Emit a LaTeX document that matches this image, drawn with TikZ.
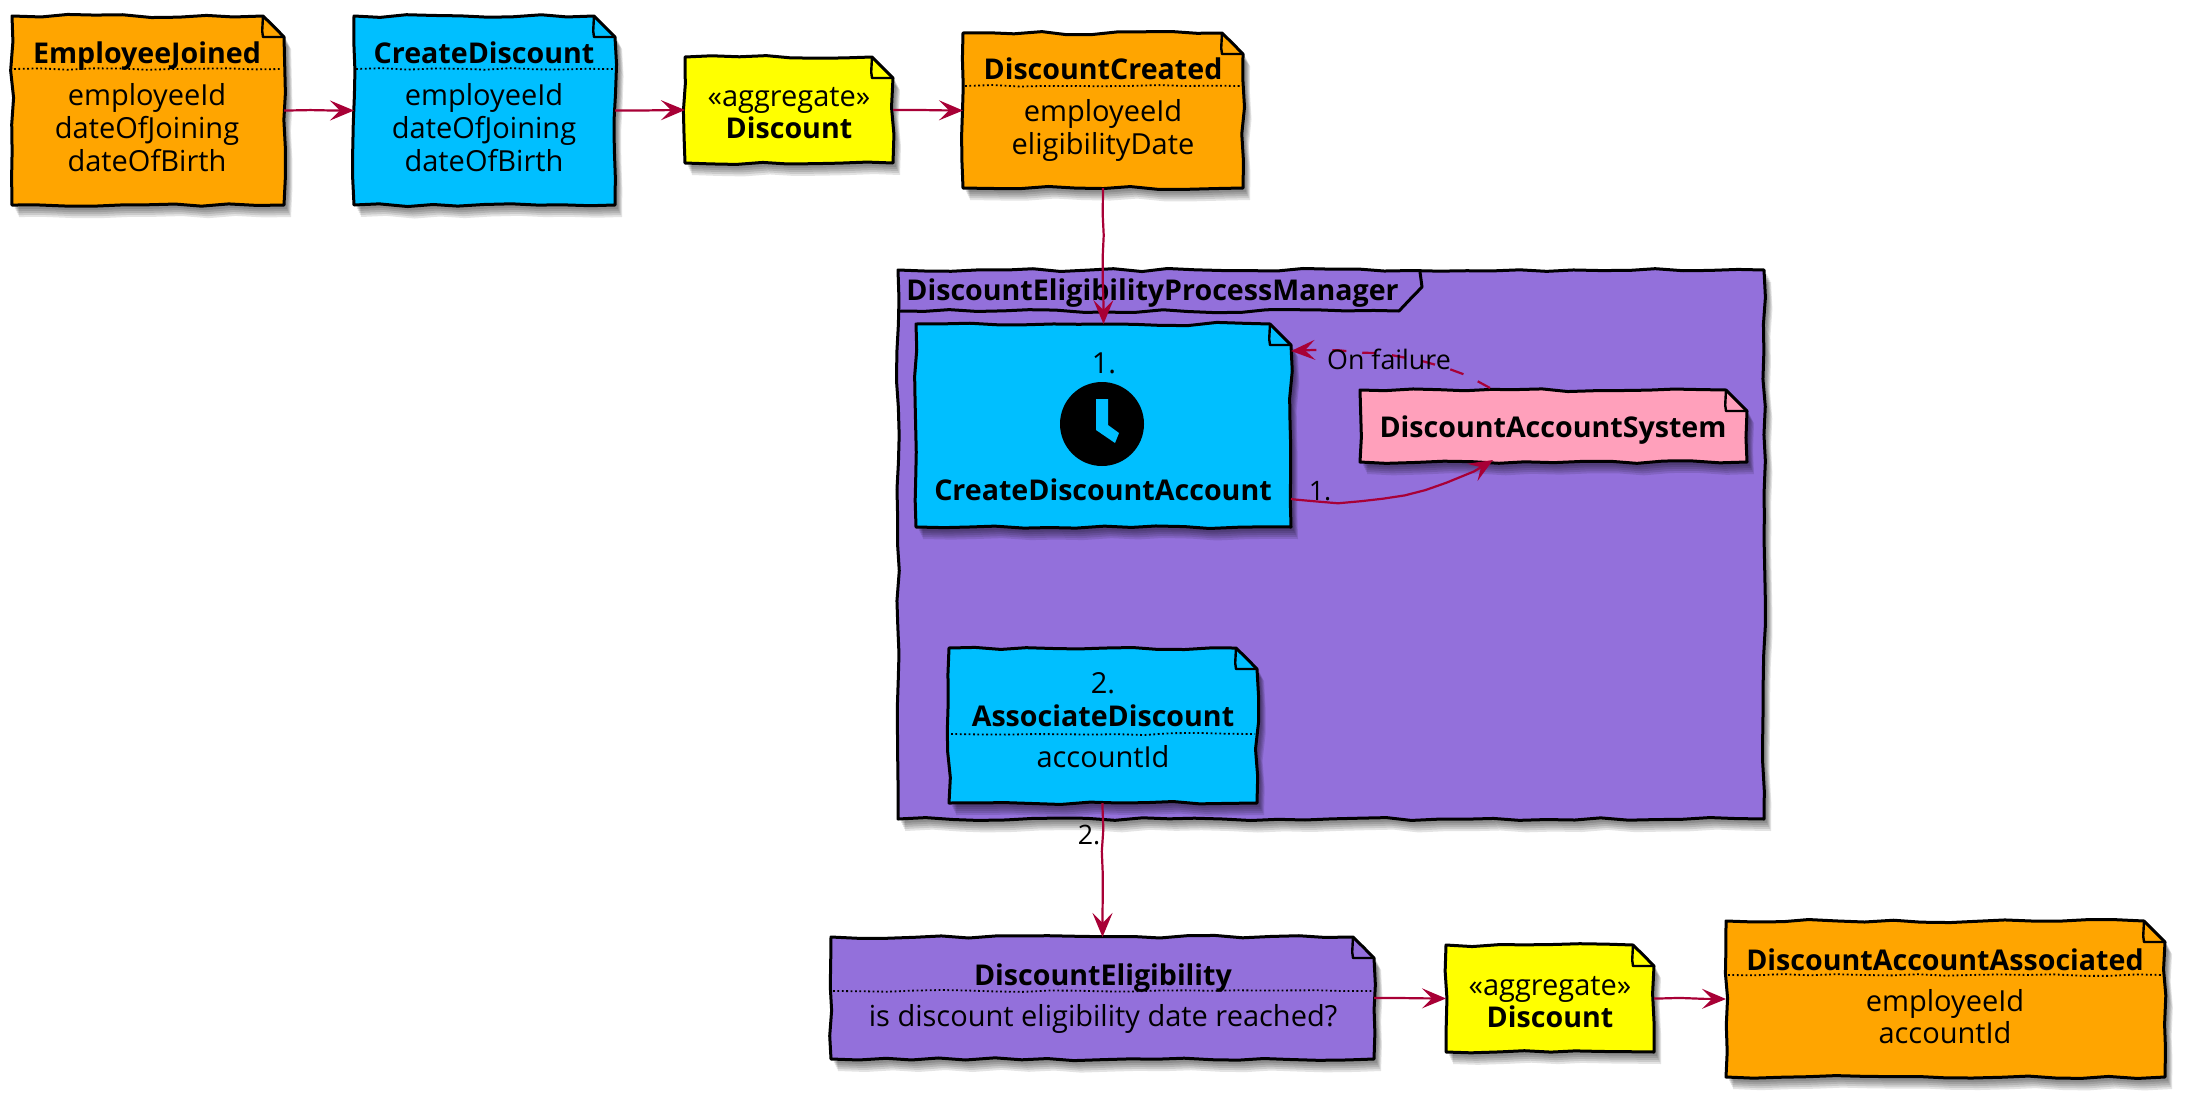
\documentclass[tikz,border=0pt]{standalone}
\usepackage{fontspec}
\setmainfont{Open Sans}
\usetikzlibrary{arrows.meta,decorations.pathmorphing,fit}
\definecolor{evorange}{HTML}{FFA500}
\definecolor{cmdblue}{HTML}{00BFFF}
\definecolor{procpurple}{HTML}{9370DB}
\definecolor{syspink}{HTML}{FFA0BB}
\definecolor{linkred}{HTML}{A80036}
\definecolor{aggyellow}{HTML}{FFFF00}
\tikzset{
  anchorbox/.style={inner sep=0pt,outer sep=0pt},
  boxline/.style={draw=black,line width=1.5pt,line join=round},
  earline/.style={draw=black,line width=1.2pt,line join=round},
  sepline/.style={draw=black,line width=.9pt,dash pattern=on .9pt off 1.3pt},
  bodytext/.style={font=\fontsize{14.5}{18}\selectfont,text height=13.6pt,text depth=3pt,inner sep=0pt},
  titletext/.style={font=\fontsize{14.3}{18}\selectfont\bfseries,text height=13.6pt,text depth=3pt,inner sep=0pt},
  edgetext/.style={font=\fontsize{13.4}{17}\selectfont,text height=13.6pt,text depth=3pt,inner sep=0pt},
  conn/.style={draw=linkred,line width=1.1pt,-{Stealth[length=12pt,width=10pt,inset=5pt]},
    decorate,decoration={random steps,segment length=11pt,amplitude=.45pt,post length=11pt,pre length=2pt}},
}
\newcommand\wobadd[5][1.6]{%
  \pgfmathsetmacro\wlen{veclen(#4-#2,#5-#3)}%
  \pgfmathtruncatemacro\wn{max(2,round(\wlen/27))}%
  \foreach \wi in {1,...,\wn}{%
    \pgfmathsetmacro\wt{\wi/\wn}%
    \pgfmathsetmacro\wx{#2+(#4-#2)*\wt+(\wi<\wn ? #1*rand : 0)}%
    \pgfmathsetmacro\wy{#3+(#5-#3)*\wt+(\wi<\wn ? #1*rand : 0)}%
    \xdef\wobpath{\wobpath -- (\wx,\wy)}%
  }%
}
\newcommand\wobshow[1]{%
  \foreach \sa/\sb in {3/4,4/6,5/8,6/10,7/12}{%
    \edef\wtmp{\noexpand\fill[black,fill opacity=.11,shift={(\sa,\sb)}] \wobpath -- cycle;}\wtmp
  }%
  \edef\wtmp{\noexpand\path[fill=#1,boxline] \wobpath -- cycle;}\wtmp
}
% name, x0, y0, x1, y1, colour
\newcommand\wnote[6]{%
  \node[anchorbox,fit={(#2,#3)(#4,#5)}] (#1) {};
  \gdef\wobpath{(#2,#3)}%
  \pgfmathsetmacro\ex{#4-21}\pgfmathsetmacro\ey{#3+21}%
  \wobadd{#2}{#3}{\ex}{#3}%
  \wobadd[.3]{\ex}{#3}{#4}{\ey}%
  \wobadd{#4}{\ey}{#4}{#5}%
  \wobadd{#4}{#5}{#2}{#5}%
  \wobadd{#2}{#5}{#2}{#3}%
  \wobshow{#6}%
  \path[earline] (\ex,#3) -- (\ex-.8,\ey-6) -- (\ex,\ey) -- (#4,\ey);
}
% x0, x1, y
\newcommand\wsep[3]{%
  \gdef\wobpath{(#1,#3)}%
  \wobadd[1]{#1}{#3}{#2}{#3}%
  \edef\wtmp{\noexpand\path[sepline] \wobpath;}\wtmp
}
\begin{document}
\begin{tikzpicture}[x=.5pt,y=-.5pt]
\pgfmathsetseed{4217}
\path[use as bounding box,fill=white] (0,0) rectangle (2206,1098);

% ---- top row
\wnote{ej}{12}{16}{284}{205}{evorange}
\wsep{14}{282}{69}
\node[titletext] (ejt) at (147,53) {EmployeeJoined};
\node[bodytext] (eja) at (147,95) {employeeId};
\node[bodytext] (ejb) at (147,128) {dateOfJoining};
\node[bodytext] (ejc) at (147,161) {dateOfBirth};

\wnote{cd}{354}{16}{615}{205}{cmdblue}
\wsep{356}{613}{69}
\node[titletext] (cdt) at (484,53) {CreateDiscount};
\node[bodytext] (cda) at (484,95) {employeeId};
\node[bodytext] (cdb) at (484,128) {dateOfJoining};
\node[bodytext] (cdc) at (484,161) {dateOfBirth};

\wnote{ag}{685}{57}{893}{163}{aggyellow}
\node[bodytext] (aga) at (789,96) {«aggregate»};
\node[titletext] (agb) at (789,128) {Discount};

\wnote{dc}{963}{33}{1243}{188}{evorange}
\wsep{965}{1241}{86}
\node[titletext] (dct) at (1103,68.5) {DiscountCreated};
\node[bodytext] (dca) at (1103,110.5) {employeeId};
\node[bodytext] (dcb) at (1103,143.5) {eligibilityDate};

% ---- process manager frame
\node[anchorbox,fit={(898,270)(1764,819)}] (pm) {};
\gdef\wobpath{(898,270)}
\wobadd{898}{270}{1764}{270}
\wobadd{1764}{270}{1764}{819}
\wobadd{1764}{819}{898}{819}
\wobadd{898}{819}{898}{270}
\wobshow{procpurple}
\gdef\wobpath{(898,311)}
\wobadd{898}{311}{1399}{311}
\wobadd[.4]{1399}{311}{1422}{287}
\wobadd[.2]{1422}{287}{1420}{272}
\edef\wtmp{\noexpand\path[boxline] \wobpath;}\wtmp
\node[titletext,anchor=west] (pmt) at (906,290) {DiscountEligibilityProcessManager};

% ---- create discount account
\wnote{ca}{916}{324}{1291}{527}{cmdblue}
\node[bodytext] (caa) at (1104,363) {1.};
\fill[black] (1102,424) circle[x radius=42,y radius=42];
\fill[cmdblue] (1096,399) -- (1108,399) -- (1108,425) -- (1119,433) -- (1115,443) -- (1096,430) -- cycle;
\node[titletext] (cab) at (1103,490) {CreateDiscountAccount};

\wnote{das}{1360}{390}{1747}{462}{syspink}
\node[titletext] (dast) at (1553,427) {DiscountAccountSystem};

\wnote{ad}{949}{648}{1257}{803}{cmdblue}
\wsep{951}{1255}{734}
\node[bodytext] (ada) at (1103,683) {2.};
\node[titletext] (adt) at (1103,716) {AssociateDiscount};
\node[bodytext] (adb) at (1103,757) {accountId};

% ---- bottom row
\wnote{de}{831}{937}{1374}{1059}{procpurple}
\wsep{833}{1372}{991}
\node[titletext] (det) at (1103,975) {DiscountEligibility};
\node[bodytext] (dea) at (1103,1016) {is discount eligibility date reached?};

\wnote{agz}{1446}{945}{1654}{1052}{aggyellow}
\node[bodytext] (agza) at (1550,985) {«aggregate»};
\node[titletext] (agzb) at (1550,1017) {Discount};

\wnote{daa}{1726}{921}{2165}{1077}{evorange}
\wsep{1728}{2163}{975}
\node[titletext] (daat) at (1945,960) {DiscountAccountAssociated};
\node[bodytext] (daaa) at (1945,1001) {employeeId};
\node[bodytext] (daab) at (1945,1033) {accountId};

% ---- connectors
\draw[conn] (ej.east) -- (cd.west);
\draw[conn] (cd.east) -- (ag.west);
\draw[conn] (ag.east) -- (dc.west);
\draw[conn] (dc.south) -- (ca.north);
\coordinate (ones) at (1291,499);
\coordinate (onee) at (1493,460);
\coordinate (fails) at (1490,388);
\coordinate (faile) at (1291,351);
\draw[conn] (ones) .. controls (1370,510) and (1440,490) .. (onee);
\draw[conn,dash pattern=on 7pt off 8pt] (fails) .. controls (1440,360) and (1370,348) .. (faile);
\draw[conn] (ad.south -| de.north) -- (de.north);
\draw[conn] (de.east) -- (agz.west);
\draw[conn] (agz.east) -- (daa.west);

% ---- connector labels
\node[edgetext] (lbla) at (1389,359) {On failure};
\node[edgetext] (lblb) at (1320,490) {1.};
\node[edgetext] (lblc) at (1089,834) {2.};
\end{tikzpicture}
\end{document}
